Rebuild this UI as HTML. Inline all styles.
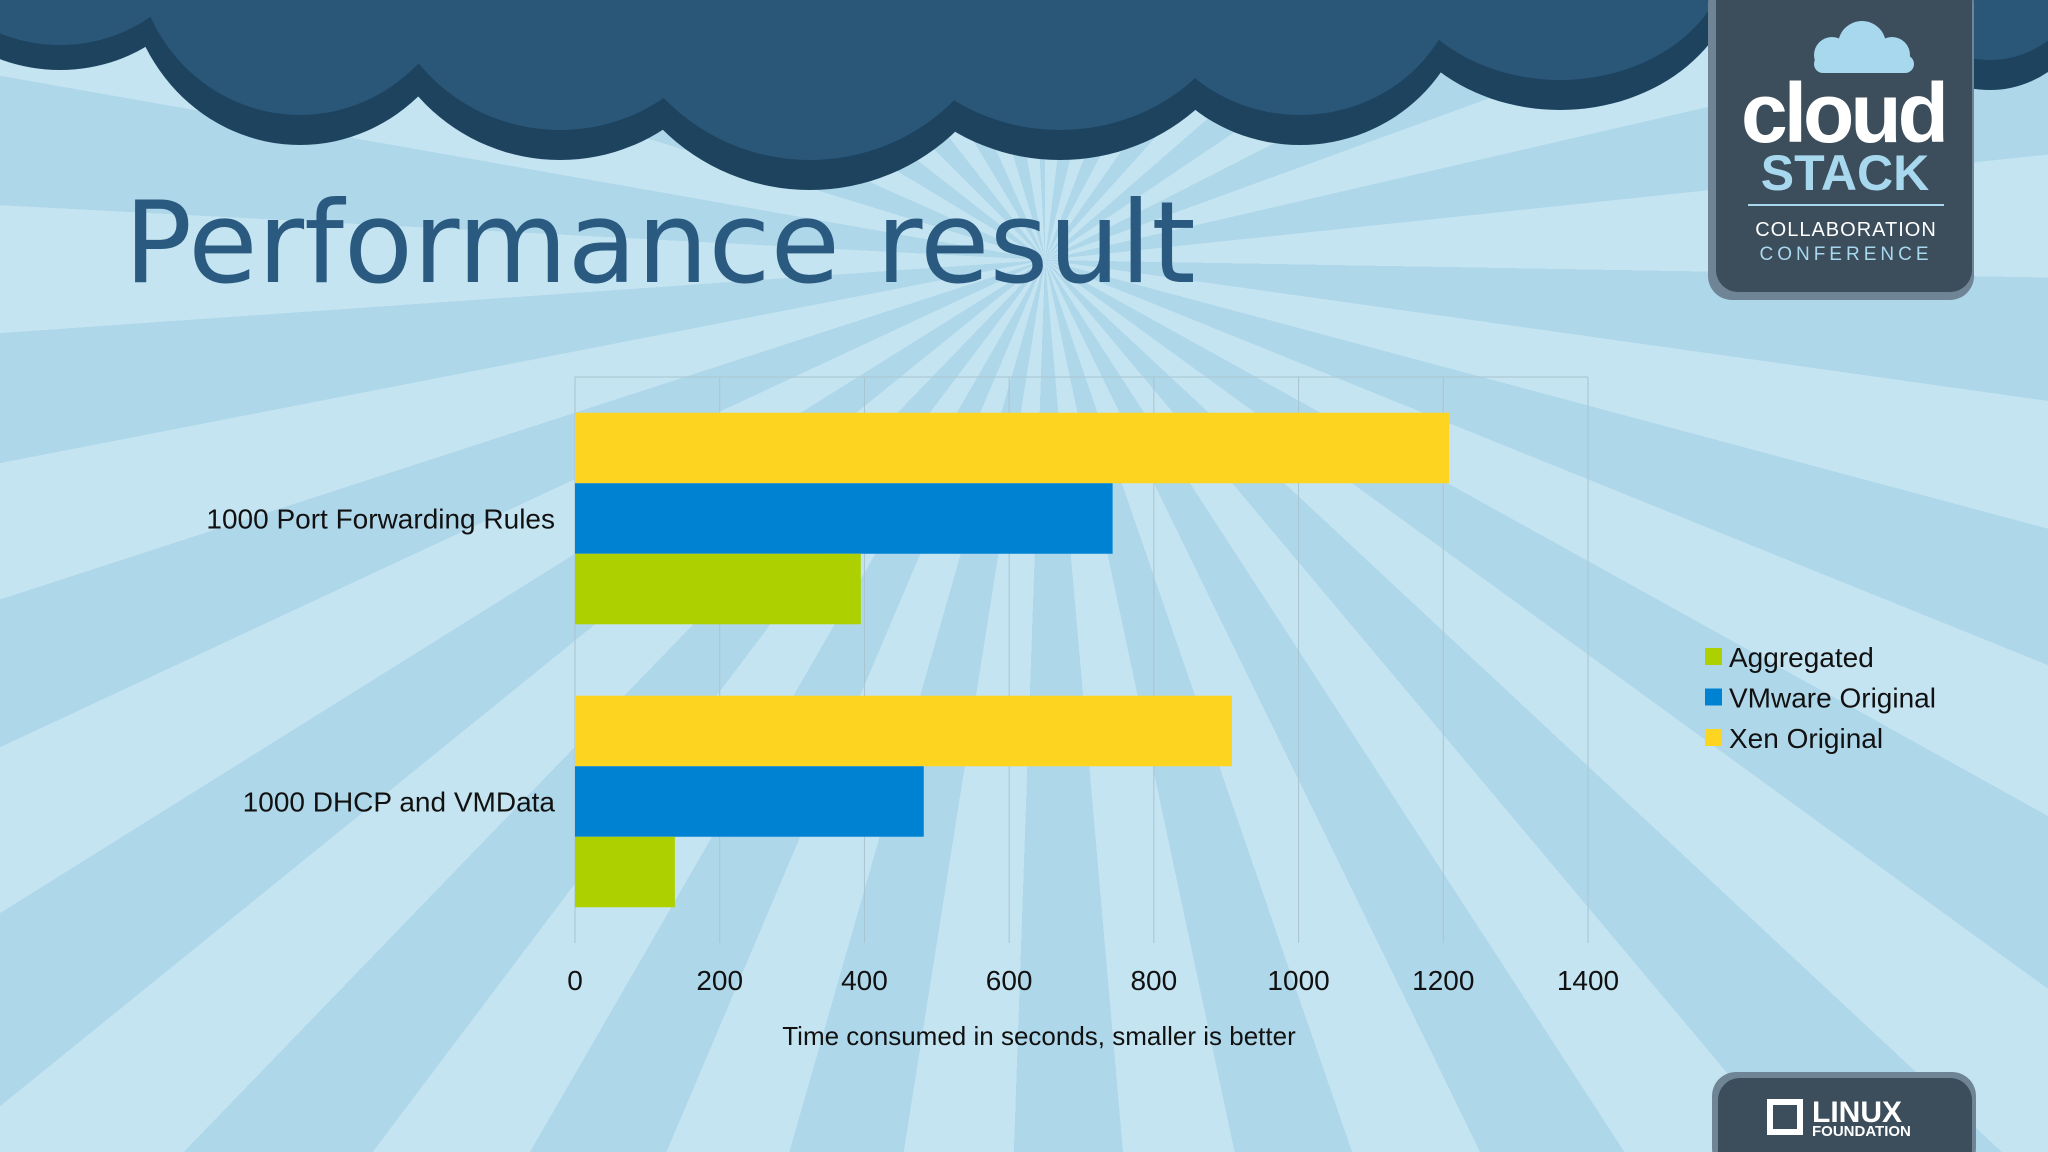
<!DOCTYPE html>
<html><head><meta charset="utf-8"><style>
html,body{margin:0;padding:0}
body{width:2048px;height:1152px;overflow:hidden;position:relative;font-family:"Liberation Sans",sans-serif;
background:repeating-conic-gradient(from 0deg at 1045px 260px,#c4e4f1 0deg 7deg,#afd7ea 7deg 14deg);}
svg{position:absolute;left:0;top:0}
</style></head><body>
<svg width="2048" height="1152">
<g>
<g fill="#1d435f">
<ellipse cx="60" cy="-60" rx="150" ry="130"/>
<ellipse cx="300" cy="-40" rx="175" ry="185"/>
<ellipse cx="560" cy="-30" rx="190" ry="190"/>
<ellipse cx="810" cy="-20" rx="210" ry="210"/>
<ellipse cx="1060" cy="-30" rx="200" ry="190"/>
<ellipse cx="1300" cy="-20" rx="170" ry="165"/>
<ellipse cx="1560" cy="-40" rx="180" ry="150"/>
<ellipse cx="1990" cy="-30" rx="110" ry="120"/>
</g>
<g fill="#2a5678">
<ellipse cx="60" cy="-75" rx="140" ry="120"/>
<ellipse cx="300" cy="-55" rx="165" ry="170"/>
<ellipse cx="560" cy="-45" rx="180" ry="175"/>
<ellipse cx="810" cy="-35" rx="200" ry="195"/>
<ellipse cx="1060" cy="-45" rx="190" ry="175"/>
<ellipse cx="1300" cy="-35" rx="160" ry="150"/>
<ellipse cx="1560" cy="-55" rx="170" ry="135"/>
<ellipse cx="1990" cy="-45" rx="100" ry="105"/>
</g>
</g>
<g>
<rect x="1708" y="-20" width="266" height="320" rx="24" fill="#6f8596"/>
<rect x="1716" y="-20" width="256" height="312" rx="22" fill="#3c4d5c"/>
<g fill="#a8d8ee"><circle cx="1832" cy="55" r="18"/><circle cx="1862" cy="45" r="24"/><circle cx="1892" cy="55" r="18"/><rect x="1814" y="55" width="100" height="18" rx="9"/></g>
<text x="1843" y="142" font-size="84" font-weight="bold" fill="#fff" text-anchor="middle" letter-spacing="-4">cloud</text>
<text x="1845" y="190" font-size="50" font-weight="bold" fill="#a8d8ee" text-anchor="middle">STACK</text>
<rect x="1748" y="204" width="196" height="2" fill="#a8d8ee"/>
<text x="1846" y="236" font-size="20" fill="#fff" text-anchor="middle" letter-spacing="1">COLLABORATION</text>
<text x="1846" y="260" font-size="19" fill="#a8d8ee" text-anchor="middle" letter-spacing="4">CONFERENCE</text>
</g>
<g>
<rect x="1712" y="1072" width="264" height="100" rx="24" fill="#6f8596"/>
<rect x="1718" y="1078" width="254" height="100" rx="22" fill="#3c4d5c"/>
<rect x="1770" y="1102" width="30" height="30" fill="none" stroke="#fff" stroke-width="6"/>
<text x="1812" y="1122" font-size="30" font-weight="bold" fill="#fff">LINUX</text>
<text x="1812" y="1136" font-size="15" font-weight="bold" fill="#fff">FOUNDATION</text>
</g>
<text x="124" y="282" font-size="113" fill="#2b5a80" font-family="DejaVu Sans,sans-serif">Performance result</text>
<g id="chart"></g>
</svg>
<script>
const categories=["1000 Port Forwarding Rules","1000 DHCP and VMData"];
const seriesNames=["Xen Original","VMware Original","Aggregated"];
const xenValues=[1208,908];
const vmwareValues=[743,482];
const aggregatedValues=[395,138];
const xTicks=[0,200,400,600,800,1000,1200,1400];
const colors=["#fdd420","#0082d3","#acd000"];
const NS="http://www.w3.org/2000/svg";
const g=document.getElementById('chart');
const X0=575,X1=1588,Y0=377,Y1=943,XMAX=1400;
const sx=v=>X0+(v/XMAX)*(X1-X0);
const groupH=(Y1-Y0)/categories.length;
const barH=70.5;
function mk(t,a){const e=document.createElementNS(NS,t);for(const k in a)e.setAttribute(k,a[k]);g.appendChild(e);return e;}
xTicks.forEach(t=>{
 const l=mk('line',{x1:sx(t),x2:sx(t),y1:Y0,y2:Y1,stroke:'#a9c4d0','stroke-width':1});
 
 
 const tx=mk('text',{x:sx(t),y:Y1+47,'font-size':28,'text-anchor':'middle',fill:'#111'});
 tx.textContent=t;
 
 
});
mk('line',{x1:X0,x2:X1,y1:Y0,y2:Y0,stroke:'#a9c4d0'});
const series=[xenValues,vmwareValues,aggregatedValues];
categories.forEach((c,i)=>{
 const gy=Y0+i*groupH;
 const startY=gy+(groupH-3*barH)/2;
 series.forEach((s,j)=>{
  const r=mk('rect',{x:X0,y:startY+j*barH,width:sx(s[i])-X0,height:barH,fill:colors[j]});
  
  
 });
 const t=mk('text',{x:555,y:gy+groupH/2+10,'font-size':28,'text-anchor':'end',fill:'#111'});
 t.textContent=c;
 
 
});
const at=mk('text',{x:1039,y:1045,'font-size':26,'text-anchor':'middle',fill:'#111'});
at.textContent="Time consumed in seconds, smaller is better";


const legendOrder=[2,1,0];
legendOrder.forEach((j,k)=>{
 const y=657+k*40.5;
 const r=mk('rect',{x:1705,y:y-9,width:17,height:17,fill:colors[j]});
 
 
 const t=mk('text',{x:1729,y:y+10,'font-size':28,fill:'#111'});
 t.textContent=seriesNames[j];
 
 
});
</script>
</body></html>
